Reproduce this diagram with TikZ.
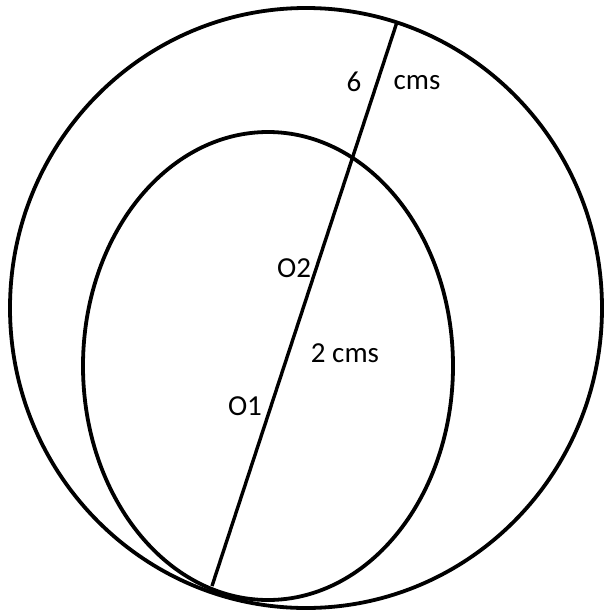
\documentclass[tikz,border=0pt]{standalone}
\usepackage{fontspec}
\setmainfont{Carlito}
\usetikzlibrary{calc,positioning}

\begin{document}
\begin{tikzpicture}[x=1pt, y=-1pt, every node/.style={font=\fontsize{29}{32}\selectfont, text=black, inner sep=0pt}]
        \useasboundingbox (0,0) rectangle (605,611);

        % Outer circle
        \draw[line width=3.8pt] (306,308) ellipse [x radius=296, y radius=300];

        % Inner circle
        \draw[line width=3.8pt] (268,366) ellipse [x radius=185, y radius=234];

        % Diameter through O1 and O2
        \coordinate (bottom) at (212,586);
        \coordinate (top) at (397,22);
        \draw[line width=3.4pt] (bottom) -- (top);

        % Labels
        \node (six) at (354,82) {6};
        \node (cms) at (417,83) {cms};
        \node (otwo) at (294,268) {O2};
        \node (twocms) at (345,353) {2 cms};
        \node (oone) at (245,406) {O1};
    \end{tikzpicture}
\end{document}
